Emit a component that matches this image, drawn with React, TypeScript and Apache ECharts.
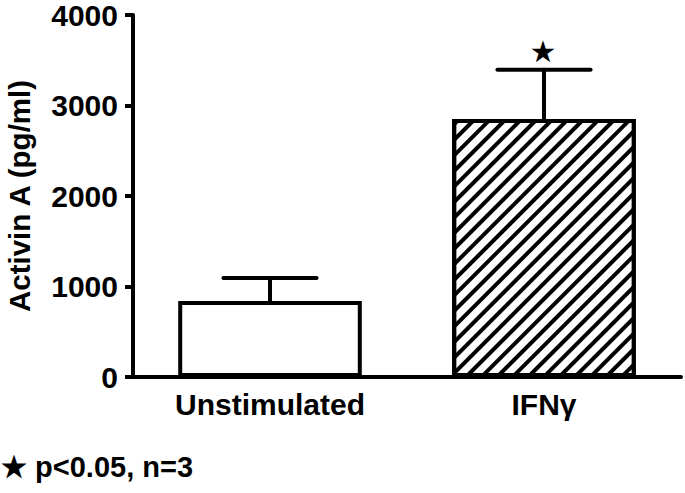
import React, { useEffect, useRef } from "react";
import * as echarts from "echarts";

const categories = ["Unstimulated", "IFNγ"];
const means = [840, 2850];
const upperErrors = [1095, 3395];
const significance = ["", "★"];
const yTicks = [0, 1000, 2000, 3000, 4000];
const yTitle = "Activin A (pg/ml)";
const footnote = "★ p<0.05, n=3";

const FONT = "'Liberation Sans', Arial, Helvetica, sans-serif";

export default function App() {
  const ref = useRef<HTMLDivElement>(null);
  useEffect(() => {
    if (!ref.current) return;
    const chart = echarts.init(ref.current, null, { renderer: "svg" });
    const errData = categories.map((_, i) => [i, means[i], upperErrors[i], significance[i]]);
    chart.setOption({
      animation: false,
      backgroundColor: "#fff",
      grid: { left: 133, right: 4, top: 15, bottom: 116, containLabel: false, outerBoundsMode: "none" },
      xAxis: {
        type: "category",
        data: categories,
        axisLine: { lineStyle: { color: "#000", width: 4 } },
        axisTick: { show: false },
        axisLabel: {
          color: "#000",
          fontFamily: FONT,
          fontWeight: "bold",
          fontSize: 30,
          margin: 12,
        },
      },
      yAxis: {
        type: "value",
        min: yTicks[0],
        max: yTicks[yTicks.length - 1],
        interval: 1000,
        name: yTitle,
        nameLocation: "middle",
        nameRotate: 90,
        nameGap: 99,
        nameTextStyle: { color: "#000", fontFamily: FONT, fontWeight: "bold", fontSize: 29.5 },
        axisLine: { show: true, lineStyle: { color: "#000", width: 4 } },
        axisTick: { show: true, length: 8, lineStyle: { color: "#000", width: 4 } },
        splitLine: { show: false },
        axisLabel: {
          color: "#000",
          fontFamily: FONT,
          fontWeight: "bold",
          fontSize: 30,
          margin: 15,
          formatter: (v: number) => String(v),
        },
      },
      series: [
        {
          type: "bar",
          barWidth: "67%",
          data: means.map((v, i) =>
            i === 1
              ? {
                  value: v,
                  itemStyle: {
                    color: "#fff",
                    borderColor: "#000",
                    borderWidth: 4,
                    decal: {
                      symbol: "rect",
                      symbolSize: 1,
                      dashArrayX: [1, 0],
                      dashArrayY: [3.5, 7],
                      rotation: -Math.PI / 4,
                      color: "#000",
                      backgroundColor: "#fff",
                    },
                  },
                }
              : { value: v, itemStyle: { color: "#fff", borderColor: "#000", borderWidth: 4 } }
          ),
          z: 2,
        },
        {
          type: "custom",
          data: errData,
          z: 3,
          renderItem: (params: any, api: any) => {
            const idx = api.value(0);
            const base = api.coord([idx, api.value(1)]);
            const top = api.coord([idx, api.value(2)]);
            const band = api.size([1, 0])[0];
            const half = band * 0.17;
            const children: any[] = [
              {
                type: "line",
                shape: { x1: base[0], y1: base[1], x2: top[0], y2: top[1] },
                style: { stroke: "#000", lineWidth: 4 },
              },
              {
                type: "line",
                shape: { x1: top[0] - half, y1: top[1], x2: top[0] + half, y2: top[1] },
                style: { stroke: "#000", lineWidth: 4, lineCap: "round" },
              },
            ];
            const sig = significance[idx];
            if (sig) {
              children.push({
                type: "text",
                x: top[0] - 1,
                y: top[1] - 3,
                style: {
                  text: sig,
                  fill: "#000",
                  font: "30px 'DejaVu Sans', sans-serif",
                  align: "center",
                  verticalAlign: "bottom",
                },
              });
            }
            return { type: "group", children };
          },
        },
      ],
      graphic: [
        {
          type: "text",
          left: 1,
          top: 452,
          style: {
            text: footnote,
            fill: "#000",
            font: `bold 29px ${FONT}`,
          },
        },
      ],
    });
    return () => chart.dispose();
  }, []);
  return <div ref={ref} style={{ width: 685, height: 493, position: "absolute", left: 0, top: 0 }} />;
}
